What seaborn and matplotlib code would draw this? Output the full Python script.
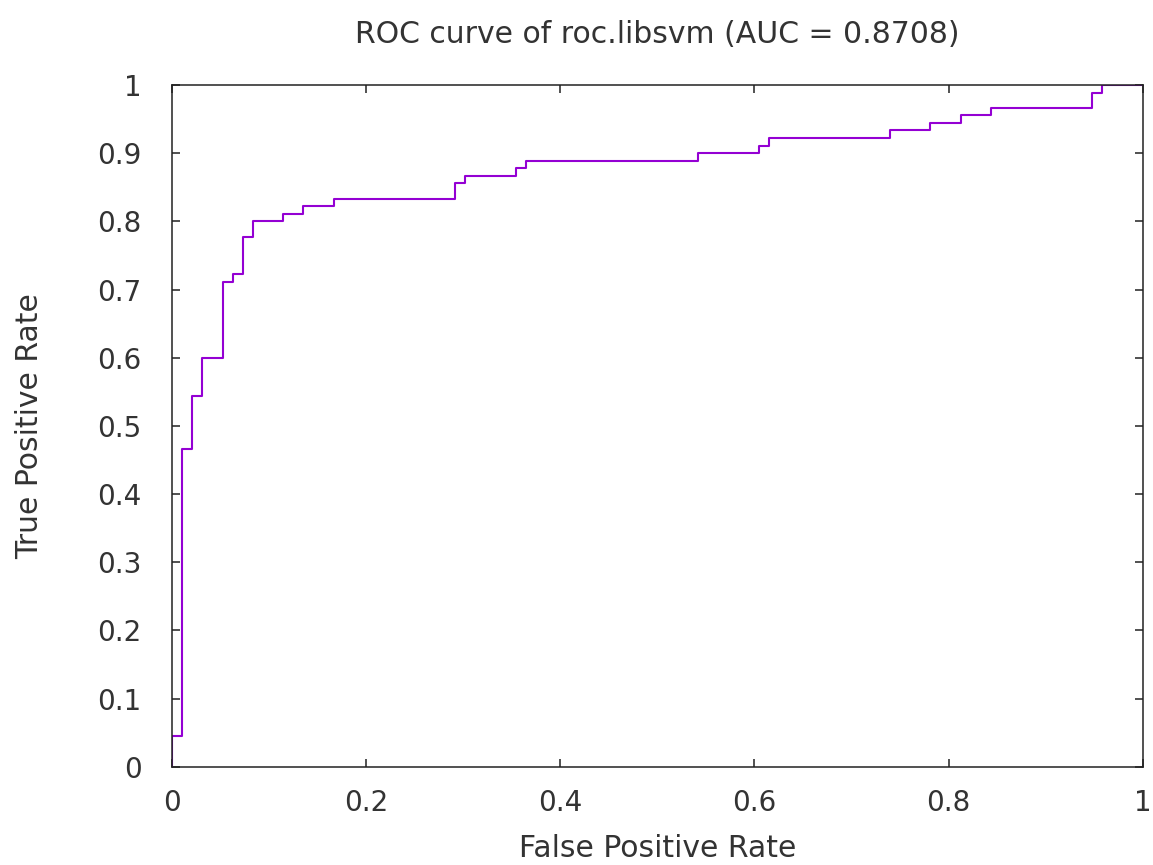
import matplotlib
matplotlib.use("Agg")
import matplotlib.pyplot as plt
import seaborn as sns
import pandas as pd

# ROC curve corner points
fpr = [0.0, 0.0, 0.0104, 0.0208, 0.0313, 0.0521, 0.0625, 0.0729, 0.0833,
       0.1146, 0.1354, 0.1667, 0.2917, 0.3021, 0.3542, 0.3646, 0.5417,
       0.6042, 0.6146, 0.7396, 0.7813, 0.8125, 0.8438, 0.9479, 0.9583, 1.0]
tpr = [0.0, 0.0444, 0.4667, 0.5444, 0.6000, 0.7111, 0.7222, 0.7778, 0.8000,
       0.8111, 0.8222, 0.8333, 0.8556, 0.8667, 0.8778, 0.8889, 0.9000,
       0.9111, 0.9222, 0.9333, 0.9444, 0.9556, 0.9667, 0.9889, 1.0, 1.0]

x_ticks = [0, 0.2, 0.4, 0.6, 0.8, 1]
x_tick_labels = ["0", "0.2", "0.4", "0.6", "0.8", "1"]
y_ticks = [0, 0.1, 0.2, 0.3, 0.4, 0.5, 0.6, 0.7, 0.8, 0.9, 1]
y_tick_labels = ["0", "0.1", "0.2", "0.3", "0.4", "0.5", "0.6", "0.7", "0.8", "0.9", "1"]

title = "ROC curve of roc.libsvm (AUC = 0.8708)"
x_label = "False Positive Rate"
y_label = "True Positive Rate"

sns.set_style("ticks")
plt.rcParams["font.family"] = ["DejaVu Sans"]

df = pd.DataFrame({"fpr": fpr, "tpr": tpr})

fig = plt.figure(figsize=(11.53, 8.65), dpi=100)
ax = fig.add_axes([0.1492, 0.1136, 0.9911 - 0.1492, 0.9017 - 0.1136])

sns.lineplot(data=df, x="fpr", y="tpr", ax=ax, estimator=None, sort=False,
             drawstyle="steps-post", color="#9400D3", linewidth=1.5)

text_color = "#333333"
ax.set_xlim(0, 1)
ax.set_ylim(0, 1)
ax.set_xticks(x_ticks)
ax.set_xticklabels(x_tick_labels)
ax.set_yticks(y_ticks)
ax.set_yticklabels(y_tick_labels)
ax.tick_params(direction="in", top=True, right=True, length=6, width=1.1,
               labelsize=20, colors=text_color, pad=16)
ax.tick_params(axis="y", pad=22)
for s in ax.spines.values():
    s.set_linewidth(1.1)
    s.set_color("#222222")
    s.set_visible(True)
ax.tick_params(color="#222222")

ax.set_xlabel(x_label, fontsize=21.5, color=text_color, labelpad=12)
ax.set_ylabel(y_label, fontsize=21.5, color=text_color, labelpad=38)
ax.set_title(title, fontsize=21.5, color=text_color, pad=30)

fig.savefig("out.png", dpi=100)
